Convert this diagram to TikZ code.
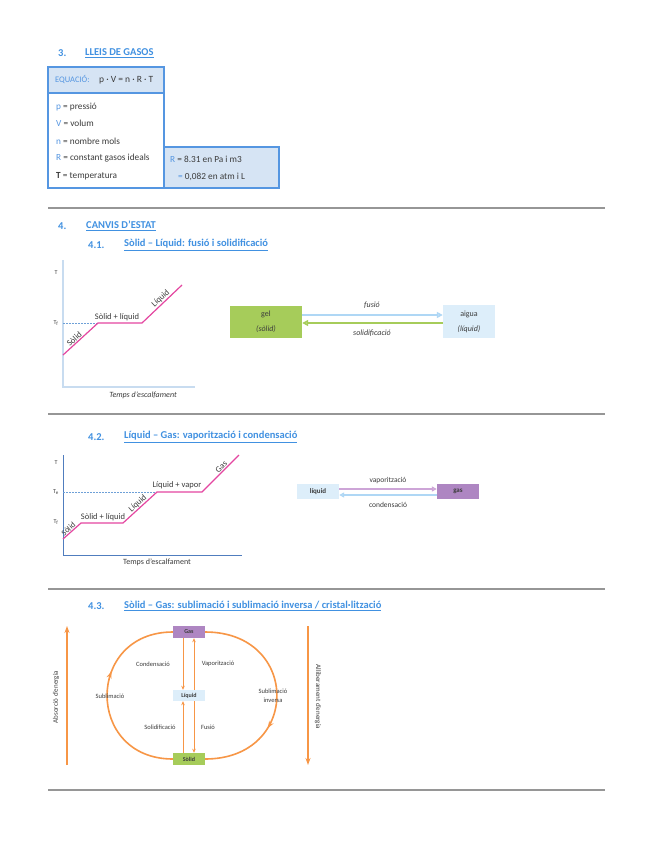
\documentclass[tikz,border=0pt]{standalone}
\usepackage{fontspec}
\setmainfont{Carlito}
\usepackage{tikz}
\usetikzlibrary{arrows.meta,decorations.markings}
\definecolor{headblue}{RGB}{65,145,225}
\definecolor{tabblue}{RGB}{85,150,225}
\definecolor{tabfill}{RGB}{214,228,244}
\definecolor{textdark}{RGB}{60,60,60}
\definecolor{rulegray}{RGB}{150,150,150}
\definecolor{curvepink}{RGB}{228,70,160}
\definecolor{axislight}{RGB}{200,220,240}
\definecolor{axisblue}{RGB}{80,125,190}
\definecolor{dotblue}{RGB}{110,160,215}
\definecolor{solidgreen}{RGB}{166,204,90}
\definecolor{liqblue}{RGB}{221,238,250}
\definecolor{gaspurple}{RGB}{174,134,194}
\definecolor{arrowblue}{RGB}{175,215,245}
\definecolor{arrowpurple}{RGB}{205,165,215}
\definecolor{cycorange}{RGB}{247,150,70}
\newcommand{\fsz}[1]{\fontsize{#1}{#1}\selectfont}

\begin{document}
\begin{tikzpicture}[x=1pt,y=-1pt,
  head/.style={anchor=west,inner sep=0pt,font=\fsz{10.5}\bfseries,text=headblue},
  tabtxt/.style={anchor=west,inner sep=0pt,font=\fsz{9.3},text=textdark},
  tabline/.style={draw=tabblue,line width=1.2pt},
  sep/.style={draw=rulegray,line width=1.5pt},
  curve/.style={draw=curvepink,line width=1.2pt},
  dotline/.style={draw=dotblue,line width=0.8pt,dash pattern=on 1.5pt off 1.5pt},
  glbl/.style={inner sep=0pt,font=\fsz{8.5},text=textdark},
  slope/.style={glbl,anchor=south,inner sep=1pt},
  tlbl/.style={inner sep=0pt,font=\fsz{6},text=textdark},
  statebox/.style={inner sep=0pt,align=center,text=textdark},
  arrlbl/.style={inner sep=0pt,font=\fsz{8},text=textdark},
  cyclbl/.style={inner sep=0pt,font=\fsz{6.5},text=textdark,align=center},
  inarr/.style={draw=cycorange,line width=1pt,-{Stealth[length=4pt,width=3.5pt]}},
  cyc/.style={draw=cycorange,line width=1.6pt,postaction={decorate}},
  bigarr/.style={draw=cycorange,line width=1.6pt,-{Stealth[length=7pt,width=5pt]}}
]
  \fill[white] (0,0) rectangle (655,848);
  \useasboundingbox (0,0) rectangle (655,848);

  % 3. Lleis de gasos
  \node[head] (h3n) at (58,53) {3.};
  \node[head] (h3) at (85,53) {\underline{LLEIS DE GASOS}};
  \draw[tabline,fill=tabfill] (48,67) rectangle (164,93);
  \draw[tabline] (48,93) rectangle (164,188);
  \draw[tabline,fill=tabfill] (164,147) rectangle (279,188);
  \node[tabtxt,font=\fsz{9.5}] (eq) at (55,80) {{\fsz{8.5}\textcolor{tabblue}{EQUACIÓ:}}\quad p · V = n · R · T};
  \node[tabtxt] (rp) at (56,107) {\textcolor{tabblue}{p} = pressió};
  \node[tabtxt] (rv) at (56,123) {\textcolor{tabblue}{V} = volum};
  \node[tabtxt] (rn) at (56,141) {\textcolor{tabblue}{n} = nombre mols};
  \node[tabtxt] (rr) at (56,158) {\textcolor{tabblue}{R} = constant gasos ideals};
  \node[tabtxt] (rt) at (56,176) {\textbf{T} = temperatura};
  \node[tabtxt] (rval1) at (170,159) {\textcolor{tabblue}{R} = 8.31 en Pa i m3};
  \node[tabtxt] (rval2) at (178,177) {\textcolor{tabblue}{=} 0,082 en atm i L};

  \draw[sep] (48,208) -- (605,208);

  % 4. Canvis d'estat
  \node[head] (h4n) at (58,226) {4.};
  \node[head] (h4) at (86,226) {\underline{CANVIS D’ESTAT}};
  \node[head] (h41n) at (88,245) {4.1.};
  \node[head] (h41) at (124,245) {\underline{Sòlid – Líquid: fusió i solidificació}};

  % 4.1 graph
  \draw[draw=axislight,line width=1.2pt] (63,260) -- (63,387) -- (195,387);
  \draw[dotline] (63,323) -- (98,323);
  \draw[curve] (63,355) -- (98,323) -- (142,323) -- (182,285);
  \node[tlbl] (t1) at (56,273) {T};
  \node[tlbl] (tf1) at (56,323) {T\textsubscript{f}};
  \node[slope,rotate=42] (s1) at (77,342) {Sòlid};
  \node[glbl] (sl1) at (117,317) {Sòlid + líquid};
  \node[slope,rotate=43] (l1) at (164,302) {Líquid};
  \node[glbl,font=\fsz{8}\itshape] (x1) at (143,395) {Temps d’escalfament};

  % 4.1 states
  \node[statebox,fill=solidgreen,minimum width=72,minimum height=32,font=\fontsize{8}{15}\selectfont] (gel) at (266,321.5) {gel\\\textit{(sòlid)}};
  \node[statebox,fill=liqblue,minimum width=52,minimum height=33,font=\fontsize{8}{15}\selectfont] (aigua) at (469,321.5) {aigua\\\textit{(líquid)}};
  \draw[draw=arrowblue,line width=1.6pt,-{Triangle[open,length=6pt,width=6pt]}] ([yshift=6.5pt]gel.east) -- ([yshift=6.5pt]aigua.west);
  \draw[draw=solidgreen,line width=1.6pt,-{Triangle[open,length=6pt,width=6pt]}] ([yshift=-1.5pt]aigua.west) -- ([yshift=-1.5pt]gel.east);
  \node[arrlbl,font=\fsz{8}\itshape] (lfus) at (372,305) {fusió};
  \node[arrlbl,font=\fsz{8}\itshape] (lsol) at (372,333) {solidificació};

  \draw[sep] (48,414) -- (605,414);

  % 4.2 Liquid - Gas
  \node[head] (h42n) at (88,437) {4.2.};
  \node[head] (h42) at (124,437) {\underline{Líquid – Gas: vaporització i condensació}};
  \draw[draw=axisblue,line width=1pt] (63,455) -- (63,555) -- (242,555);
  \draw[dotline] (63,492) -- (157,492);
  \draw[curve] (63,539) -- (81,523) -- (123,523) -- (157,492) -- (202,492) -- (239,455);
  \node[tlbl] (t2) at (56,463) {T};
  \node[tlbl] (te2) at (56,492) {T\textsubscript{e}};
  \node[tlbl] (tf2) at (56,522) {T\textsubscript{f}};
  \node[slope,rotate=42,font=\fsz{8}] (s2) at (71,532) {Sòlid};
  \node[glbl] (sl2) at (103,517) {Sòlid + líquid};
  \node[slope,rotate=42] (l2) at (141,507) {Líquid};
  \node[glbl] (lv2) at (177,485) {Líquid + vapor};
  \node[slope,rotate=45] (g2) at (224,470) {Gas};
  \node[glbl,font=\fsz{8}] (x2) at (157,562) {Temps d’escalfament};

  % 4.2 states
  \node[statebox,fill=liqblue,minimum width=42,minimum height=15,font=\fsz{7}\bfseries] (liq2) at (318,491.5) {líquid};
  \node[statebox,fill=gaspurple,minimum width=42,minimum height=15,font=\fsz{7}\bfseries] (gas2) at (458,491.5) {gas};
  \draw[draw=arrowpurple,line width=1.3pt,-{Triangle[open,length=5pt,width=5pt]}] ([yshift=2.5pt]liq2.east) -- ([yshift=2.5pt]gas2.west);
  \draw[draw=arrowblue,line width=1.3pt,-{Triangle[open,length=5pt,width=5pt]}] ([yshift=-3.5pt]gas2.west) -- ([yshift=-3.5pt]liq2.east);
  \node[arrlbl,font=\fsz{7.5}] (lvap) at (388,481) {vaporització};
  \node[arrlbl,font=\fsz{7.5}] (lcon) at (388,505) {condensació};

  \draw[sep] (48,589) -- (605,589);

  % 4.3 Solid - Gas
  \node[head] (h43n) at (88,606) {4.3.};
  \node[head] (h43) at (124,606) {\underline{Sòlid – Gas: sublimació i sublimació inversa / cristal·lització}};

  \node[statebox,fill=gaspurple,minimum width=32,minimum height=12,font=\fsz{6}\bfseries] (gas3) at (189,632) {Gas};
  \node[statebox,fill=liqblue,minimum width=32,minimum height=11,font=\fsz{6}\bfseries] (liq3) at (189,695.5) {Líquid};
  \node[statebox,fill=solidgreen,minimum width=32,minimum height=12,font=\fsz{6}\bfseries] (sol3) at (189,759) {Sòlid};

  \draw[cyc,decoration={markings,mark=at position 0.62 with {\arrow{Stealth[length=7pt,width=5pt]}}}]
    (sol3.west) to[out=180,in=180,looseness=1.77] (gas3.west);
  \draw[cyc,decoration={markings,mark=at position 0.66 with {\arrow{Stealth[length=7pt,width=5pt]}}}]
    (gas3.east) to[out=0,in=0,looseness=1.93] (sol3.east);

  \draw[inarr] ([xshift=-6pt]gas3.south) -- ([xshift=-6pt]liq3.north);
  \draw[inarr] ([xshift=-6pt]sol3.north) -- ([xshift=-6pt]liq3.south);
  \draw[inarr] ([xshift=5pt]liq3.north) -- ([xshift=5pt]gas3.south);
  \draw[inarr] ([xshift=5pt]liq3.south) -- ([xshift=5pt]sol3.north);

  \node[cyclbl] (lcond) at (153,664) {Condensació};
  \node[cyclbl] (lvapo) at (218,664) {Vaporització};
  \node[cyclbl] (lsub) at (110,696) {Sublimació};
  \node[cyclbl,font=\fontsize{6.5}{9}\selectfont] (lsubi) at (273,696) {Sublimació\\inversa};
  \node[cyclbl] (lsold) at (160,727) {Solidificació};
  \node[cyclbl] (lfusi) at (208,727) {Fusió};

  % energy arrows
  \coordinate (abs0) at (67,765);
  \coordinate (abs1) at (67,626);
  \coordinate (rel0) at (308,626);
  \coordinate (rel1) at (308,765);
  \draw[bigarr] (abs0) -- (abs1);
  \draw[bigarr] (rel0) -- (rel1);
  \node[cyclbl,font=\fsz{7},rotate=90] (labs) at (56,697) {Absorció d’energia};
  \node[cyclbl,font=\fsz{7},rotate=-90] (lrel) at (318,697) {Alliberament d’energia};

  \draw[sep] (48,790) -- (605,790);
\end{tikzpicture}
\end{document}
